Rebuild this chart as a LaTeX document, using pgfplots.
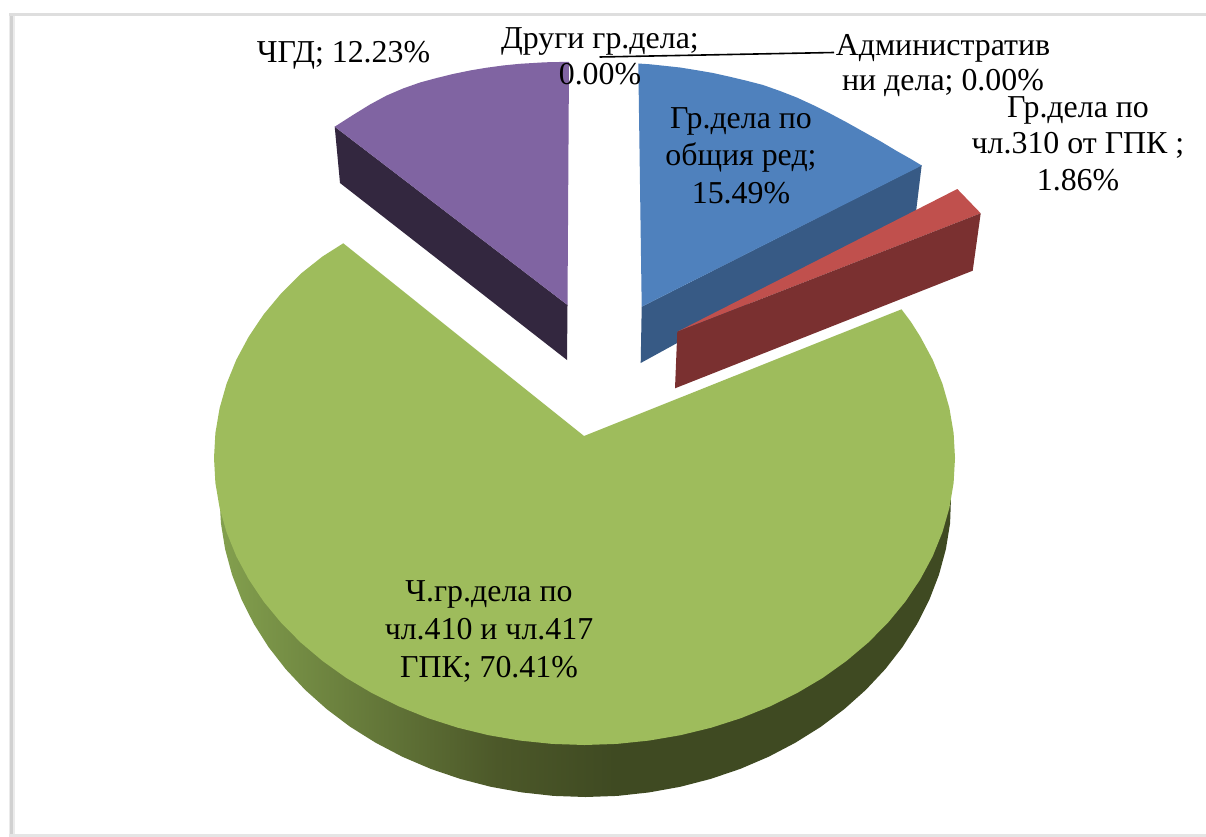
\documentclass[border=0pt]{standalone}
\usepackage{pgfplots}
\pgfplotsset{compat=1.18}
\usepackage{fontspec}
\setmainfont{Liberation Serif}
\definecolor{gtop}{HTML}{9EBC5C}
\definecolor{gdark}{HTML}{3F4A22}
\definecolor{gmid}{HTML}{4C5829}
\definecolor{glight}{HTML}{83A04E}
\definecolor{ptop}{HTML}{8064A2}
\definecolor{pside}{HTML}{33273F}
\definecolor{btop}{HTML}{4F81BD}
\definecolor{bside}{HTML}{375A85}
\definecolor{rtop}{HTML}{C0504D}
\definecolor{rside}{HTML}{7A3030}
\pgfdeclarehorizontalshading{greenside}{100bp}{color(0bp)=(glight); color(25bp)=(glight); color(44bp)=(gmid); color(52bp)=(gdark); color(100bp)=(gdark)}
\tikzset{lab/.style={align=center,inner sep=0pt,font=\fontsize{32}{38}\selectfont,text=black}}
\begin{document}
\begin{tikzpicture}
\begin{axis}[
  scale only axis, width=1206bp, height=837bp,
  xmin=0, xmax=1206, ymin=0, ymax=837, y dir=reverse,
  axis lines=none, ticks=none, clip=true]
% page
\addplot[fill=white,draw=none] coordinates {(0,0)(1206,0)(1206,837)(0,837)};
% frame
\addplot[draw=black!8,line width=6.5bp] coordinates {(12,13)(12,837)};
\addplot[draw=black!18,line width=3bp] coordinates {(11.5,14)(11.5,837)};
\addplot[draw=black!13,line width=3.5bp] coordinates {(9,14.5)(1206,14.5)};
\addplot[draw=black!10,line width=4bp] coordinates {(9,835.5)(1206,835.5)};
% purple
\addplot[fill=pside,draw=none] coordinates {(334.7,126.7)(340,183)(567,360)(567.5,305)};
\addplot[fill=ptop,draw=none] coordinates {(334.7,126.7)(353,115)(370,104.5)(386.7,95.5)(403,88.5)(420,82.5)(436.7,78)(453,74)(470,70.5)(486.7,67.7)(503,65.5)(520,63.8)(545,62.3)(569,61.8)(567.5,305)};
% blue
\addplot[fill=bside,draw=none] coordinates {(921.7,165)(916,212)(640.7,363)(641.7,306.7)};
\addplot[fill=btop,draw=none] coordinates {(638.3,63.5)(650,64.3)(663.3,65.7)(680,67.5)(696.7,70.2)(713,73)(730,76.8)(746,80.6)(763,85)(780,91)(796.7,97.5)(813,105)(830,113.5)(846,122)(863,131.5)(880,141)(896.7,151)(910,158.5)(921.7,165.5)(641.7,306.7)};
% red
\addplot[fill=rtop,draw=none] coordinates {(957.3,189)(980.7,213.3)(677.3,331.7)};
\addplot[fill=rside,draw=none] coordinates {(980.7,213.3)(972.7,270.7)(675,388.3)(677.3,331.7)};
% green side
\addplot[draw=none,shading=greenside] coordinates {(951,497)(950.1,523.1)(945.9,549.1)(939,574.6)(929.4,599.6)(917.2,623.8)(902.5,647)(885.3,669.1)(865.9,689.8)(844.3,709.1)(820.8,726.8)(795.4,742.7)(768.5,756.8)(740.2,768.9)(710.7,778.9)(680.2,786.8)(649.1,792.4)(617.4,795.9)(585.5,797)(553.6,795.9)(521.9,792.4)(490.8,786.8)(460.3,778.9)(430.8,768.9)(402.5,756.8)(375.6,742.7)(350.2,726.8)(326.7,709.1)(305.1,689.8)(285.7,669.1)(268.5,647)(253.8,623.8)(241.6,599.6)(232,574.6)(225.1,549.1)(220.9,523.1)(219.5,497)};
% green top
\addplot[fill=gtop,draw=none] coordinates {(343.3,243.3)(322.5,256.5)(300.7,273.8)(281,293.6)(263.6,314.5)(248.7,336.7)(236.3,359.8)(226.6,383.7)(219.6,408.2)(215.4,433)(214,458)(215.4,483)(219.6,507.8)(226.6,532.3)(236.3,556.2)(248.7,579.3)(263.6,601.5)(281,622.6)(300.7,642.5)(322.5,660.9)(346.3,677.9)(372,693.1)(399.2,706.5)(427.9,718.1)(457.8,727.7)(488.6,735.2)(520.2,740.6)(552.2,743.9)(584.5,745)(616.8,743.9)(648.8,740.6)(680.4,735.2)(711.2,727.7)(741.1,718.1)(769.8,706.5)(797,693.1)(822.7,677.9)(846.5,660.9)(868.3,642.5)(888,622.6)(905.4,601.5)(920.3,579.3)(932.7,556.2)(942.4,532.3)(949.4,507.8)(953.6,483)(955,458)(953.6,433)(949.4,408.2)(942.4,383.7)(932.7,359.8)(920.3,336.7)(911,322)(901.5,309.3)(584,436)};
% leader
\addplot[draw=black,line width=1.6bp] coordinates {(599.5,57)(834,52.5)};
% labels
\node[lab] at (axis cs:343.5,55) {ЧГД; 12.23\%};
\node[lab,font=\fontsize{32}{36}\selectfont] at (axis cs:600,56) {Други гр.дела;\\0.00\%};
\node[lab,font=\fontsize{32}{35.5}\selectfont] at (axis cs:943,65.5) {Административ\\ни дела; 0.00\%};
\node[lab,font=\fontsize{32}{36.5}\selectfont] at (axis cs:1078,143.5) {Гр.дела по\\чл.310 от ГПК ;\\1.86\%};
\node[lab,font=\fontsize{32}{37.5}\selectfont] at (axis cs:741,155.5) {Гр.дела по\\общия ред;\\15.49\%};
\node[lab] at (axis cs:489,631.5) {Ч.гр.дела по\\чл.410 и чл.417\\ГПК; 70.41\%};
\end{axis}
\end{tikzpicture}
\end{document}
